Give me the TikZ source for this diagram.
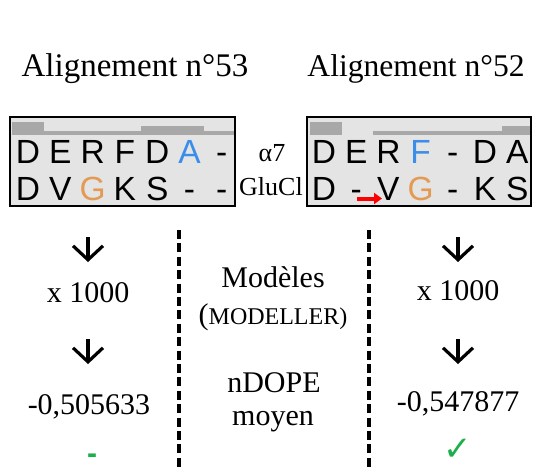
\documentclass[tikz,border=0pt]{standalone}
\usepackage{fontspec}
\setmainfont{Liberation Serif}
\setsansfont{Liberation Sans}
\newfontfamily\dejavu{DejaVu Sans}
\usetikzlibrary{arrows.meta}
\definecolor{boxgray}{HTML}{E4E4E4}
\definecolor{bargray}{HTML}{A8A8A8}
\definecolor{resblue}{HTML}{3A8EEA}
\definecolor{resorange}{HTML}{E39A55}
\definecolor{okgreen}{HTML}{1DAF4B}
\begin{document}
\begin{tikzpicture}[x=0.5pt,y=-0.5pt,
    title/.style={font=\fontsize{16.5}{18}\selectfont,anchor=base,inner sep=0pt},
    txt/.style={font=\fontsize{15}{17}\selectfont,anchor=base,inner sep=0pt},
    small/.style={font=\fontsize{13}{15}\selectfont,anchor=base,inner sep=0pt},
    res/.style={font=\sffamily\fontsize{16.75}{18}\selectfont,anchor=base,inner sep=0pt},
    alnbox/.style={draw,line width=1pt,fill=boxgray},
    bar/.style={fill=bargray},
    down/.style={line width=1.6pt,-{Straight Barb[length=7pt,width=15pt]}},
    sep/.style={line width=2pt,dash pattern=on 4.5pt off 2.2pt}]
  \useasboundingbox (0,0) rectangle (533,467);

  % titles
  \node[title] (titleL) at (135,76) {Alignement n°53};
  \node[title,font=\fontsize{15.8}{18}\selectfont] (titleR) at (416,76) {Alignement n°52};

  % alignment 53
  \draw[alnbox] (10,117) rectangle (235,206);
  \fill[bar] (12,122) rectangle (44,135);
  \fill[bar] (44,131) rectangle (141,135);
  \fill[bar] (141,126) rectangle (204,135);
  \fill[bar] (204,131) rectangle (234,135);
  \foreach \l/\c [count=\i from 0] in {D/black,E/black,R/black,F/black,D/black,A/resblue,-/black}
    \node[res,text=\c] (aT\i) at (28+32.3*\i,163) {\l};
  \foreach \l/\c [count=\i from 0] in {D/black,V/black,G/resorange,K/black,S/black,-/black,-/black}
    \node[res,text=\c] (aB\i) at (28+32.3*\i,200) {\l};

  % alignment 52
  \draw[alnbox] (307,117) rectangle (531,206);
  \fill[bar] (310,122) rectangle (342,135);
  \fill[bar] (373,131) rectangle (502,135);
  \fill[bar] (502,126) rectangle (530,135);
  \foreach \l/\c [count=\i from 0] in {D/black,E/black,R/black,F/resblue,-/black,D/black,A/black}
    \node[res,text=\c] (bT\i) at (324+32.2*\i,163) {\l};
  \foreach \l/\c [count=\i from 0] in {D/black,-/black,V/black,G/resorange,-/black,K/black,S/black}
    \node[res,text=\c] (bB\i) at (324+32.2*\i,200) {\l};
  \coordinate (shiftA) at (357,198.5);
  \coordinate (shiftB) at (382,198.5);
  \draw[red,line width=2pt,-{Triangle[length=4pt,width=5.5pt]}] (shiftA) -- (shiftB);

  % sequences
  \node[small] (alpha) at (272,161) {α7};
  \node[small] (glucl) at (271,195) {GluCl};

  % separators
  \coordinate (sepLt) at (179,230);
  \coordinate (sepLb) at (179,467);
  \coordinate (sepRt) at (369,230);
  \coordinate (sepRb) at (369,467);
  \draw[sep] (sepLt) -- (sepLb);
  \draw[sep] (sepRt) -- (sepRb);

  % left column
  \coordinate (dL1) at (88,237);
  \coordinate (dL2) at (88,262);
  \coordinate (dL3) at (88,339);
  \coordinate (dL4) at (88,364);
  \draw[down] (dL1) -- (dL2);
  \node[txt] (nbL) at (88,302) {x 1000};
  \draw[down] (dL3) -- (dL4);
  \node[txt] (scoreL) at (89,414) {-0,505633};
  \node[txt,font=\sffamily\bfseries\fontsize{15}{17}\selectfont,text=okgreen] (badL) at (92,463) {-};

  % middle column
  \node[txt] (models) at (273,287) {Modèles};
  \node[txt] (modeller) at (273,324) {(\fontsize{12}{14}\selectfont MODELLER)};
  \node[txt] (ndope) at (274,392) {nDOPE};
  \node[txt] (moyen) at (273,425) {moyen};

  % right column
  \coordinate (dR1) at (458,237);
  \coordinate (dR2) at (458,262);
  \coordinate (dR3) at (458,339);
  \coordinate (dR4) at (458,364);
  \draw[down] (dR1) -- (dR2);
  \node[txt] (nbR) at (458,300) {x 1000};
  \draw[down] (dR3) -- (dR4);
  \node[txt] (scoreR) at (458,411) {-0,547877};
  \node[text=okgreen,font=\dejavu\fontsize{17}{19}\selectfont,inner sep=0pt] (okR) at (458,450) {✓};
\end{tikzpicture}
\end{document}
